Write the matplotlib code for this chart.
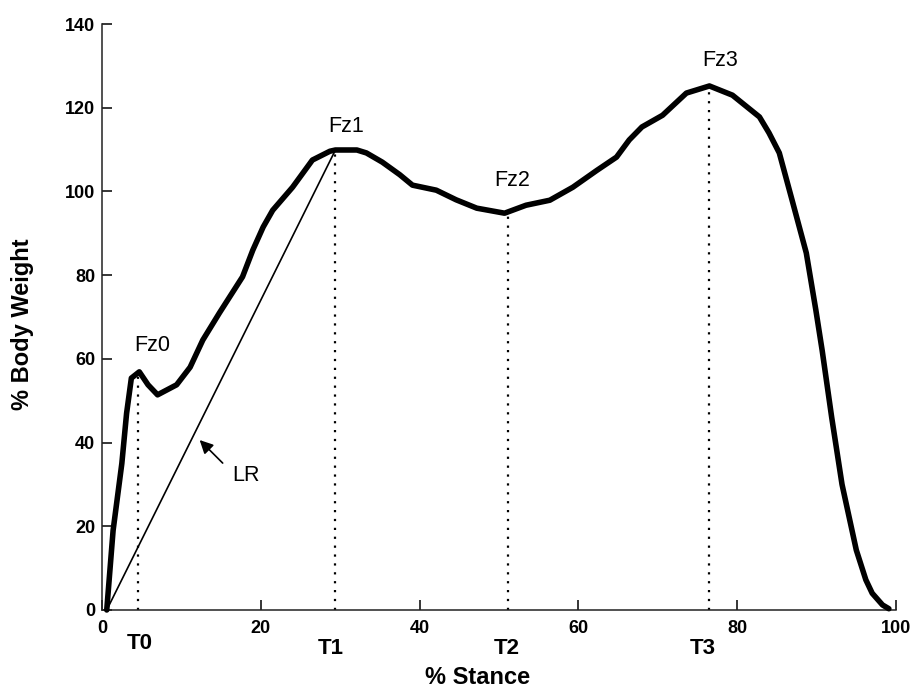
import numpy as np
import matplotlib
matplotlib.use("Agg")
import matplotlib.pyplot as plt

plt.rcParams['font.family'] = ['Liberation Sans', 'DejaVu Sans']

# vertical ground reaction force, % body weight over % stance
stance = [0.6, 1.4, 2.5, 3.1, 3.7, 4.7, 5.8, 7.0, 9.4, 11.1, 12.7, 14.8, 17.7,
          19.0, 20.3, 21.5, 24.0, 26.5, 28.7, 29.4, 32.1, 33.3, 35.3, 37.5, 39.1,
          42.1, 44.6, 47.2, 50.7, 53.4, 56.4, 59.3, 62.3, 64.8, 66.4, 68.0, 70.6,
          73.6, 76.5, 79.4, 82.8, 84.0, 85.3, 86.9, 88.7, 89.9, 90.7, 91.9, 93.2,
          95.0, 96.2, 97.0, 98.3, 99.1]
body_weight = [0, 19, 35, 47, 55.4, 56.9, 53.8, 51.4, 53.8, 58, 64.5, 71, 79.6,
               86, 91.5, 95.5, 101, 107.5, 109.6, 109.9, 109.9, 109.2, 107, 104, 101.5,
               100.3, 98, 96, 94.8, 96.7, 97.9, 101, 105, 108.2, 112.3, 115.4, 118.2,
               123.5, 125.2, 123, 117.8, 114, 109.2, 98, 85.3, 71.7, 62, 46, 30,
               14.3, 7.2, 4, 1.2, 0.3]

# event points
event_x = [4.5, 29.4, 51.1, 76.5]
event_y = [56.9, 109.9, 94.8, 125.2]
fz_labels = ["Fz0", "Fz1", "Fz2", "Fz3"]
fz_pos = [(6.3, 63.3), (30.7, 115.6), (51.6, 102.7), (77.9, 131.2)]
t_labels = ["T0", "T1", "T2", "T3"]
t_pos = [(4.8, -8.0), (28.8, -9.1), (51.0, -9.1), (75.7, -9.1)]

fig = plt.figure(figsize=(9.13, 6.88), dpi=100)
ax = fig.add_axes([0.1117, 0.1134, 0.8697, 0.8517])

ax.plot(stance, body_weight, color='black', lw=4, solid_joinstyle='round',
        solid_capstyle='round', clip_on=False, zorder=3)
# loading rate line
ax.plot([stance[0], event_x[1]], [0, event_y[1]], color='black', lw=1.2, zorder=2)

for x, y in zip(event_x, event_y):
    ax.plot([x, x], [0, y], color='black', lw=1.6, ls=(0, (1, 3)), zorder=1)

for lab, (x, y) in zip(fz_labels, fz_pos):
    ax.text(x, y, lab, fontsize=15.5, ha='center', va='center')
for lab, (x, y) in zip(t_labels, t_pos):
    ax.text(x, y, lab, fontsize=16, fontweight='bold', ha='center', va='center',
            clip_on=False)

ax.annotate("", xy=(12.3, 40.6), xytext=(15.2, 35.1),
            arrowprops=dict(arrowstyle='-|>', color='black', lw=1.2,
                            mutation_scale=20, shrinkA=0, shrinkB=0))
ax.text(18.1, 32.2, "LR", fontsize=15.5, ha='center', va='center')

ax.set_xlim(0, 100)
ax.set_ylim(0, 140)
ax.set_xticks(np.arange(0, 101, 20))
ax.set_yticks(np.arange(0, 141, 20))
ax.spines['top'].set_visible(False)
ax.spines['right'].set_visible(False)
for s in ['left', 'bottom']:
    ax.spines[s].set_linewidth(1.1)
    ax.spines[s].set_color('#222222')
ax.tick_params(direction='in', length=7, width=1.1, labelsize=13)
ax.tick_params(axis='x', pad=7)
ax.tick_params(axis='y', pad=5)
for lab in ax.get_xticklabels() + ax.get_yticklabels():
    lab.set_fontweight('bold')

ax.text(0.473, -0.116, "% Stance", transform=ax.transAxes, fontsize=17,
        fontweight='bold', ha='center', va='center')
ax.text(-0.1, 0.487, "% Body Weight", transform=ax.transAxes, fontsize=17,
        fontweight='bold', ha='center', va='center', rotation=90)

fig.savefig("out.png", dpi=100)
